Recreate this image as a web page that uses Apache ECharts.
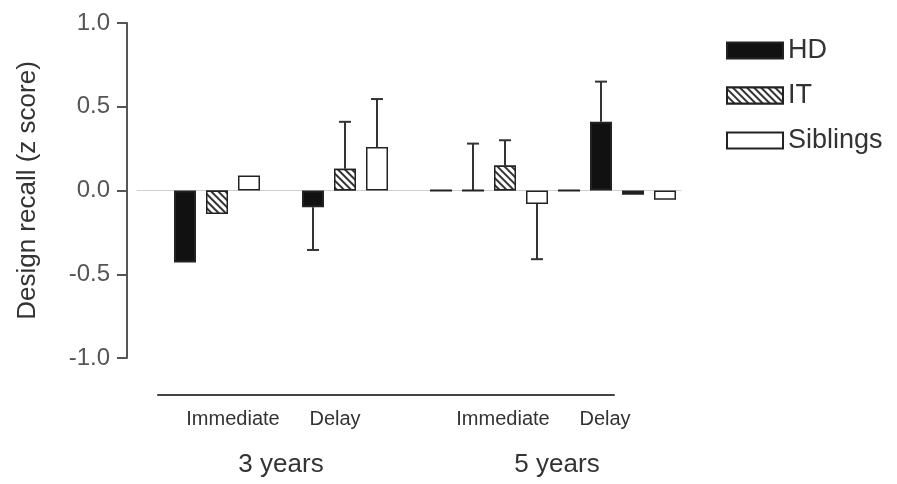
<!DOCTYPE html>
<html>
<head>
<meta charset="utf-8">
<script src="https://cdn.jsdelivr.net/npm/echarts@6/dist/echarts.min.js"></script>
<style>
  html, body { margin: 0; padding: 0; background: #fff; }
  #chart { width: 897px; height: 484px; }
</style>
</head>
<body>
<div id="chart"></div>
<script>
// one slot per bar, empty slots make the gaps between groups
const slots = ['', '3y-imm-HD', '3y-imm-IT', '3y-imm-Sib', '', '3y-del-HD', '3y-del-IT', '3y-del-Sib', '',
  '5y-a', '5y-b', '5y-c', '5y-d', '5y-e', '5y-f', '5y-g', '5y-h']
const hdValues = [null, -0.43, null, null, null, -0.10, null, null, null, 0, 0, null, null, 0, 0.41, -0.025, null]
const itValues = [null, null, -0.14, null, null, null, 0.13, null, null, null, null, 0.15, null, null, null, null, null]
const sibValues = [null, null, null, 0.09, null, null, null, 0.26, null, null, null, null, -0.08, null, null, null, -0.055]
// where each error bar ends (null = no error bar)
const errEnds = [null, null, null, null, null, -0.355, 0.41, 0.546, null, null, 0.28, 0.30, -0.41, null, 0.65, null, null]

const yTicks = [-1.0, -0.5, 0.0, 0.5, 1.0]

// labels under the chart: [fine slot, text]
const conditionLabels = [[12, 'Immediate'], [29, 'Delay'], [57, 'Immediate'], [74, 'Delay']]
const groupLabels = [[20, '3 years'], [66, '5 years']]
const FINE_SLOTS = 76

const FONT = 'Liberation Sans, Arial, sans-serif'

function fineAxis(entries) {
  const arr = new Array(FINE_SLOTS).fill('')
  entries.forEach(([i, t]) => { arr[i] = t })
  return arr
}

const chart = echarts.init(document.getElementById('chart'))

const errData = []
errEnds.forEach((e, i) => {
  if (e === null) return
  const base = hdValues[i] ?? itValues[i] ?? sibValues[i] ?? 0
  errData.push([i, base, e])
})

function renderErr(params, api) {
  const p0 = api.coord([api.value(0), api.value(1)])
  const p1 = api.coord([api.value(0), api.value(2)])
  const style = { stroke: '#333', lineWidth: 2 }
  return {
    type: 'group',
    children: [
      { type: 'line', shape: { x1: p0[0], y1: p0[1], x2: p1[0], y2: p1[1] }, style },
      { type: 'line', shape: { x1: p1[0] - 6, y1: p1[1], x2: p1[0] + 6, y2: p1[1] }, style }
    ]
  }
}

const option = {
  backgroundColor: '#fff',
  animation: false,
  textStyle: { fontFamily: FONT },
  legend: {
    orient: 'vertical',
    left: 721,
    top: 32,
    itemWidth: 56,
    itemHeight: 16,
    itemGap: 18,
    icon: 'rect',
    textStyle: { fontSize: 27, color: '#333', fontFamily: FONT },
    data: ['HD', 'IT', 'Siblings']
  },
  grid: [
    { left: 137, right: 216, top: 23, bottom: 126 },
    { left: 158, right: 283, top: 394, height: 1 }
  ],
  xAxis: [
    {
      type: 'category',
      gridIndex: 0,
      data: slots,
      axisLine: { onZero: true, lineStyle: { color: '#d0d0d0', width: 1 } },
      axisTick: { show: false },
      axisLabel: { show: false }
    },
    {
      type: 'category',
      gridIndex: 1,
      position: 'bottom',
      data: fineAxis(conditionLabels),
      axisLine: { lineStyle: { color: '#444', width: 2 } },
      axisTick: { show: false },
      axisLabel: { interval: 0, color: '#333', fontSize: 20, margin: 14, fontFamily: FONT }
    },
    {
      type: 'category',
      gridIndex: 1,
      position: 'bottom',
      offset: 50,
      data: fineAxis(groupLabels),
      axisLine: { show: false },
      axisTick: { show: false },
      axisLabel: { interval: 0, color: '#333', fontSize: 26, margin: 7, fontFamily: FONT }
    }
  ],
  yAxis: [
    {
      type: 'value',
      gridIndex: 0,
      min: yTicks[0],
      max: yTicks[yTicks.length - 1],
      interval: 0.5,
      offset: 10,
      name: 'Design recall (z score)',
      nameLocation: 'middle',
      nameGap: 86,
      nameTextStyle: { fontSize: 26, color: '#333', fontFamily: FONT },
      axisLine: { show: true, lineStyle: { color: '#555', width: 2 } },
      axisTick: { show: true, length: 10, lineStyle: { color: '#555', width: 2 } },
      axisLabel: {
        color: '#555',
        fontSize: 24,
        margin: 17,
        fontFamily: FONT,
        formatter: v => v.toFixed(1)
      },
      splitLine: { show: false }
    },
    {
      type: 'value',
      gridIndex: 1,
      show: false
    }
  ],
  series: [
    {
      name: 'HD',
      type: 'bar',
      data: hdValues,
      barWidth: 22,
      barGap: '-100%',
      itemStyle: { color: '#111', borderColor: '#222', borderWidth: 2 }
    },
    {
      name: 'IT',
      type: 'bar',
      data: itValues,
      barWidth: 22,
      barGap: '-100%',
      itemStyle: {
        color: '#fff',
        borderColor: '#222',
        borderWidth: 1.5,
        decal: {
          symbol: 'rect',
          symbolSize: 1,
          dashArrayX: [1, 0],
          dashArrayY: [2, 3],
          rotation: Math.PI / 4,
          color: '#333',
          backgroundColor: '#fff'
        }
      }
    },
    {
      name: 'Siblings',
      type: 'bar',
      data: sibValues,
      barWidth: 22,
      barGap: '-100%',
      itemStyle: { color: '#fff', borderColor: '#222', borderWidth: 1.5 }
    },
    {
      name: 'err',
      type: 'custom',
      renderItem: renderErr,
      data: errData,
      encode: { x: 0, y: [1, 2] },
      z: 1
    }
  ]
}

chart.setOption(option)
</script>
</body>
</html>
